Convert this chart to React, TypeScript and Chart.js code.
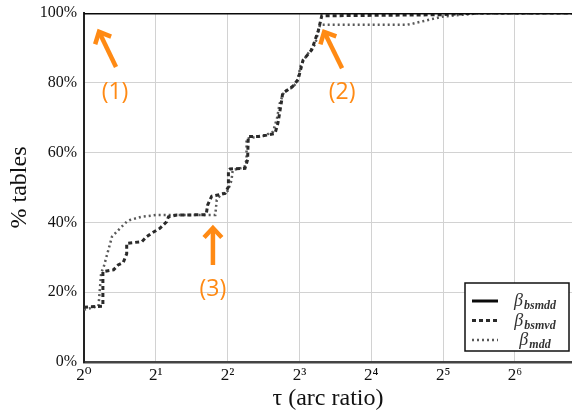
import React, { useEffect, useRef } from "react";
import { Chart, registerables } from "chart.js";
Chart.register(...registerables);

// ---- data ----
const tauBsmdd = [1, 111];
const pctBsmdd = [100, 100];

const tauBsmvd = [1, 1.2, 1.2, 1.33, 1.39, 1.46, 1.51, 1.51, 1.75, 1.83, 1.92, 2.08, 2.22, 2.26, 2.45, 3.25, 3.3, 3.43, 3.6, 3.9, 4.03, 4.03, 4.09, 4.73, 4.85, 4.88, 5.38, 5.84, 6.32, 6.5, 6.74, 6.8, 7.5, 7.9, 8.28, 9.0, 9.6, 9.92, 31, 45, 111];
const pctBsmvd = [15.7, 16, 25.9, 26.4, 27.8, 28.5, 31, 34, 34.5, 35.9, 36.9, 38.3, 40.2, 41.6, 42.1, 42.2, 45, 47.5, 47.8, 48.3, 50.2, 55, 55.3, 55.5, 58, 64.6, 64.6, 65, 65.5, 68.5, 75, 77, 79, 81, 86.5, 89.4, 95, 99.2, 99.5, 100, 100];

const tauMdd = [1, 1.15, 1.18, 1.21, 1.31, 1.37, 1.51, 1.56, 1.74, 2.0, 3.55, 3.6, 3.75, 4.0, 4.15, 4.2, 4.7, 4.8, 4.8, 5.2, 5.7, 6.2, 6.45, 6.6, 6.9, 7.4, 7.8, 8.1, 8.6, 9.3, 9.76, 22.5, 24, 32, 45, 111];
const pctMdd = [15, 16, 25.5, 27.3, 35.9, 37.3, 40.2, 40.7, 41.6, 42.1, 42.1, 46.4, 48, 49, 52, 55, 55.8, 58, 64, 64.4, 64.8, 66, 70, 74, 77.5, 78.5, 80, 85, 88, 91, 96.6, 96.6, 97, 99, 99.9, 100];

const xTickValues = [1, 2, 4, 8, 16, 32, 64];
const xTickLabels = ["2⁰", "2¹", "2²", "2³", "2⁴", "2⁵", "2⁶"];
const yTickValues = [0, 20, 40, 60, 80, 100];
const yTickLabels = ["0%", "20%", "40%", "60%", "80%", "100%"];

const legendSymbols = ["β", "β", "β"];
const legendSubs = ["bsmdd", "bsmvd", "mdd"];

const noteLabels = ["(1)", "(2)", "(3)"];
const noteTipTau = [1.156, 10.15, 3.47];
const noteTipPct = [94.6, 94.6, 38.4];
const noteTailTau = [1.362, 12.07, 3.47];
const noteTailPct = [84.5, 84.2, 27.8];
const noteTextTau = [1.349, 12.07, 3.47];
const noteTextPct = [77.1, 77.1, 20.9];

const SERIF = "'Liberation Serif', 'DejaVu Serif', serif";
const ORANGE = "#ff8a14";

const toPts = (xs: number[], ys: number[]) => xs.map((x, i) => ({ x, y: ys[i] }));

const overlayPlugin = {
  id: "overlay",
  afterDraw(chart: any) {
    const ctx = chart.ctx as CanvasRenderingContext2D;
    const xs = chart.scales.x;
    const ys = chart.scales.y;
    const area = chart.chartArea;
    // annotations
    ctx.save();
    for (let i = 0; i < noteLabels.length; i++) {
      const tx = xs.getPixelForValue(noteTipTau[i]);
      const ty = ys.getPixelForValue(noteTipPct[i]);
      const sx = xs.getPixelForValue(noteTailTau[i]);
      const sy = ys.getPixelForValue(noteTailPct[i]);
      ctx.strokeStyle = ORANGE;
      ctx.lineWidth = 4.5;
      ctx.lineCap = "butt";
      ctx.lineJoin = "miter";
      ctx.beginPath();
      ctx.moveTo(sx, sy);
      ctx.lineTo(tx, ty);
      ctx.stroke();
      const ang = Math.atan2(ty - sy, tx - sx);
      const hl = 13;
      const spread = 0.75;
      ctx.beginPath();
      ctx.moveTo(tx - hl * Math.cos(ang - spread), ty - hl * Math.sin(ang - spread));
      ctx.lineTo(tx, ty);
      ctx.lineTo(tx - hl * Math.cos(ang + spread), ty - hl * Math.sin(ang + spread));
      ctx.stroke();
      ctx.fillStyle = ORANGE;
      ctx.font = "23px 'Open Sans', 'Noto Sans', sans-serif";
      ctx.textAlign = "center";
      ctx.textBaseline = "middle";
      ctx.fillText(noteLabels[i], xs.getPixelForValue(noteTextTau[i]), ys.getPixelForValue(noteTextPct[i]));
    }
    ctx.restore();

    // legend
    ctx.save();
    const bw = 104, bh = 68;
    const bx = area.right - 107;
    const by = area.bottom - 79;
    ctx.fillStyle = "#fff";
    ctx.fillRect(bx, by, bw, bh);
    ctx.strokeStyle = "#111";
    ctx.lineWidth = 1.5;
    ctx.strokeRect(bx, by, bw, bh);
    const datasets = chart.data.datasets;
    for (let i = 0; i < legendSubs.length; i++) {
      const ry = by + 18 + i * 19.5;
      const ds = datasets[i];
      ctx.strokeStyle = ds.borderColor;
      ctx.lineWidth = ds.borderWidth;
      ctx.setLineDash(ds.borderDash || []);
      ctx.beginPath();
      ctx.moveTo(bx + 7, ry);
      ctx.lineTo(bx + 33, ry);
      ctx.stroke();
      ctx.setLineDash([]);
      ctx.fillStyle = "#333";
      ctx.textBaseline = "alphabetic";
      ctx.textAlign = "left";
      ctx.font = `italic 18px ${SERIF}`;
      const symW = ctx.measureText(legendSymbols[i]).width;
      ctx.font = `italic bold 12px ${SERIF}`;
      const subW = ctx.measureText(legendSubs[i]).width;
      const cx = bx + 70;
      const startX = cx - (symW + subW + 1) / 2;
      ctx.font = `italic 18px ${SERIF}`;
      ctx.fillText(legendSymbols[i], startX, ry + 5);
      ctx.font = `italic bold 12px ${SERIF}`;
      ctx.fillText(legendSubs[i], startX + symW + 1, ry + 8);
    }
    ctx.restore();
  },
};

export default function App() {
  const ref = useRef<HTMLCanvasElement | null>(null);
  useEffect(() => {
    if (!ref.current) return;
    const chart = new Chart(ref.current, {
      type: "line",
      data: {
        datasets: [
          { label: "bsmdd", data: toPts(tauBsmdd, pctBsmdd), borderColor: "#0a0a0a", borderWidth: 3, pointRadius: 0, fill: false, tension: 0 },
          { label: "bsmvd", data: toPts(tauBsmvd, pctBsmvd), borderColor: "#2a2a2a", borderWidth: 3, borderDash: [4, 3], pointRadius: 0, fill: false, tension: 0 },
          { label: "mdd", data: toPts(tauMdd, pctMdd), borderColor: "#595959", borderWidth: 2.5, borderDash: [2, 3], pointRadius: 0, fill: false, tension: 0 },
        ],
      } as any,
      options: {
        animation: false,
        responsive: false,
        maintainAspectRatio: false,
        layout: { padding: { top: 13, right: 0, left: 0, bottom: 0 } },
        plugins: { legend: { display: false }, tooltip: { enabled: false } },
        scales: {
          x: {
            type: "logarithmic",
            min: 1,
            max: 111,
            afterBuildTicks: (s: any) => {
              s.ticks = xTickValues.map((v) => ({ value: v }));
            },
            afterFit: (s: any) => {
              s.height = 54;
              s.paddingLeft = 0;
              s.paddingRight = 0;
            },
            ticks: {
              autoSkip: false,
              maxRotation: 0,
              padding: 3,
              color: "#111",
              font: { family: SERIF, size: 17 },
              callback: (v: any) => {
                const i = xTickValues.indexOf(Number(v));
                return i >= 0 ? xTickLabels[i] : "";
              },
            },
            grid: { color: "#d2d2d2", lineWidth: 1, drawTicks: false },
            border: { color: "#444", width: 2.5 },
            title: { display: true, text: "τ (arc ratio)", color: "#111", font: { family: SERIF, size: 24 }, padding: { top: 0, bottom: 3 } },
          },
          y: {
            type: "linear",
            min: 0,
            max: 100,
            afterBuildTicks: (s: any) => {
              s.ticks = yTickValues.map((v) => ({ value: v }));
            },
            afterFit: (s: any) => {
              s.width = 84;
              s.paddingTop = 0;
              s.paddingBottom = 0;
            },
            ticks: {
              padding: 7,
              color: "#111",
              font: { family: SERIF, size: 16 },
              callback: (v: any) => {
                const i = yTickValues.indexOf(Number(v));
                return i >= 0 ? yTickLabels[i] : "";
              },
            },
            grid: { color: "#d2d2d2", lineWidth: 1, drawTicks: false },
            border: { color: "#222", width: 2 },
            title: { display: true, text: "% tables", color: "#111", font: { family: SERIF, size: 24 }, padding: { top: 5, bottom: 0 } },
          },
        },
      } as any,
      plugins: [overlayPlugin],
    });
    return () => chart.destroy();
  }, []);
  return (
    <div style={{ position: "fixed", left: 0, top: 0, width: 572, height: 416, background: "#fff" }}>
      <canvas ref={ref} width={572} height={416} style={{ display: "block", width: 572, height: 416 }} />
    </div>
  );
}
